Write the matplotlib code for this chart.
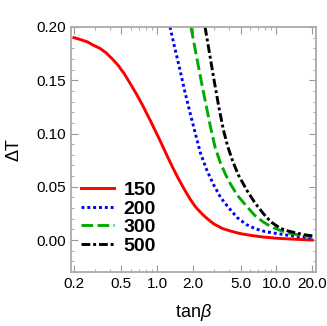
import matplotlib
matplotlib.use("Agg")
import matplotlib.pyplot as plt
from matplotlib.ticker import FixedLocator, NullFormatter, FixedFormatter

plt.rcParams['font.family'] = ['Liberation Sans', 'DejaVu Sans']
plt.rcParams['mathtext.fontset'] = 'custom'
plt.rcParams['mathtext.it'] = 'Liberation Sans:italic'

labels = ["150", "200", "300", "500"]
colors = ["#ff0000", "#0000ff", "#00aa00", "#000000"]

x150 = [0.20, 0.23, 0.26, 0.29, 0.33, 0.37, 0.42, 0.47, 0.53, 0.60, 0.67, 0.75,
        0.85, 0.95, 1.06, 1.2, 1.35, 1.5, 1.7, 1.9, 2.1, 2.4, 2.7, 3.0, 3.5,
        4.1, 5.0, 6.0, 7.5, 10.0, 14.0, 20.0]
y150 = [0.190, 0.188, 0.186, 0.183, 0.180, 0.176, 0.170, 0.164, 0.156, 0.146,
        0.137, 0.127, 0.115, 0.104, 0.093, 0.080, 0.068, 0.058, 0.047, 0.038,
        0.031, 0.024, 0.019, 0.015, 0.011, 0.0085, 0.006, 0.0045, 0.003,
        0.0017, 0.0008, 0.0]

x200 = [1.28, 1.4, 1.55, 1.7, 1.9, 2.1, 2.3, 2.6, 2.94, 3.4, 4.0, 4.7, 5.6,
        6.7, 8.0, 10.0, 13.0, 16.0, 20.0]
y200 = [0.200, 0.181, 0.160, 0.140, 0.118, 0.099, 0.082, 0.066, 0.053, 0.040,
        0.030, 0.021, 0.0145, 0.0105, 0.008, 0.0062, 0.0042, 0.003, 0.002]

x300 = [1.92, 2.05, 2.2, 2.4, 2.6, 2.8, 3.06, 3.4, 3.8, 4.1, 4.7, 5.7, 6.6,
        7.75, 9.0, 10.8, 13.0, 15.0, 17.5, 20.0]
y300 = [0.200, 0.183, 0.165, 0.143, 0.124, 0.106, 0.087, 0.072, 0.060, 0.053,
        0.042, 0.031, 0.023, 0.017, 0.0125, 0.009, 0.0063, 0.005, 0.004, 0.003]

x500 = [2.52, 2.75, 3.0, 3.3, 3.6, 3.9, 4.3, 4.8, 5.7, 6.6, 7.75, 9.0, 10.8,
        12.5, 14.9, 17.0, 20.0]
y500 = [0.200, 0.175, 0.150, 0.124, 0.103, 0.088, 0.074, 0.061, 0.046, 0.035,
        0.025, 0.017, 0.011, 0.0085, 0.0065, 0.005, 0.004]

xticks = [0.2, 0.5, 1.0, 2.0, 5.0, 10.0, 20.0]
xticklabels = ["0.2", "0.5", "1.0", "2.0", "5.0", "10.0", "20.0"]
xminor = [0.3, 0.4, 0.6, 0.7, 0.8, 0.9, 3, 4, 6, 7, 8, 9]
yticks = [0.00, 0.05, 0.10, 0.15, 0.20]
yticklabels = ["0.00", "0.05", "0.10", "0.15", "0.20"]
yminor = [-0.02, -0.01, 0.01, 0.02, 0.03, 0.04, 0.06, 0.07, 0.08, 0.09,
          0.11, 0.12, 0.13, 0.14, 0.16, 0.17, 0.18, 0.19]

fig = plt.figure(figsize=(3.27, 3.26), dpi=100)
ax = fig.add_axes([71/327, 1 - 272/326, (316-71)/327, (272-27)/326])

styles = [dict(ls='-'), dict(ls=(0, (1, 1))), dict(ls=(0, (4, 1.5))), dict(ls=(0, (3, 1, 1, 1)))]
series = [(x150, y150), (x200, y200), (x300, y300), (x500, y500)]
for (xs, ys), c, lab, st in zip(series, colors, labels, styles):
    ax.plot(xs, ys, color=c, lw=2.1, label=lab, **st)

ax.set_xscale('log')
ax.set_xlim(0.189, 21.5)
ax.set_ylim(-0.03, 0.20)

ax.xaxis.set_major_locator(FixedLocator(xticks))
ax.xaxis.set_major_formatter(FixedFormatter(xticklabels))
ax.xaxis.set_minor_locator(FixedLocator(xminor))
ax.xaxis.set_minor_formatter(NullFormatter())
ax.yaxis.set_major_locator(FixedLocator(yticks))
ax.yaxis.set_major_formatter(FixedFormatter(yticklabels))
ax.yaxis.set_minor_locator(FixedLocator(yminor))

fc = '#aaaaaa'
for sp in ax.spines.values():
    sp.set_color(fc)
    sp.set_linewidth(1.3)
ax.tick_params(which='both', direction='in', top=True, right=True, color='#999999', labelsize=11, labelcolor='black')
ax.tick_params(which='major', length=5, width=0.8)
ax.tick_params(which='minor', length=2.5, width=0.6)

ax.set_xlabel(r'tan$\it{\beta}$', fontsize=13, labelpad=8)
ax.set_ylabel(r'ΔT', fontsize=13, labelpad=10)

leg = ax.legend(loc='lower left', bbox_to_anchor=(-0.015, 0.015), frameon=False,
                prop={'weight': 'bold', 'size': 14}, handlelength=1.7,
                handletextpad=0.5, labelspacing=0.05, borderaxespad=0.3)

fig.savefig('out.png', dpi=100)
